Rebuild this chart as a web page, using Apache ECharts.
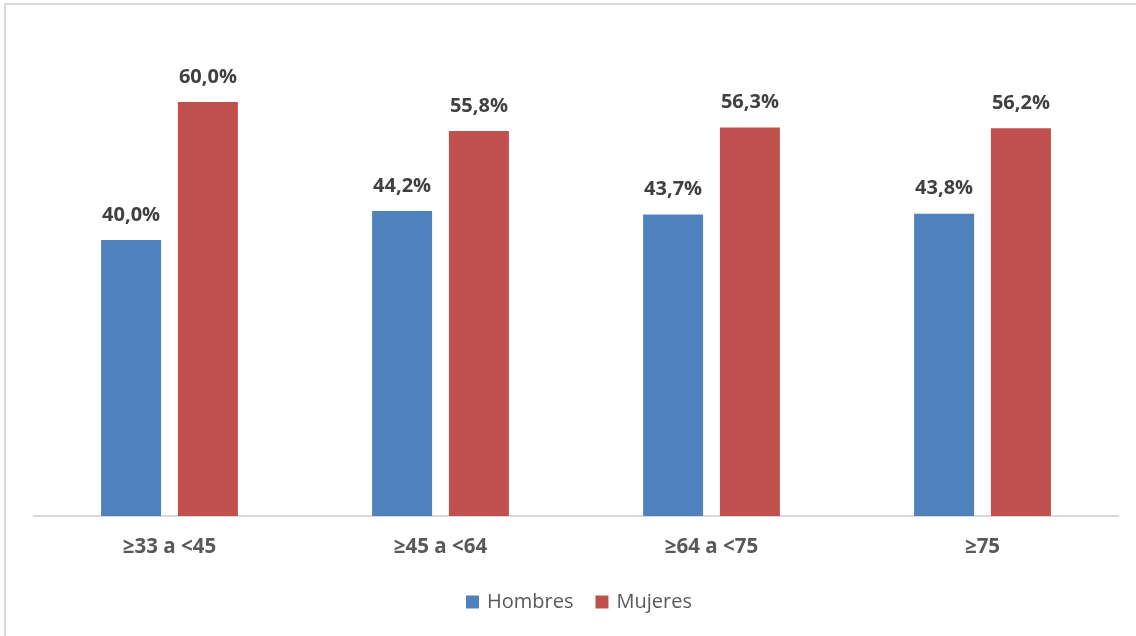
<!DOCTYPE html>
<html>
<head>
<meta charset="utf-8">
<script src="https://cdn.jsdelivr.net/npm/echarts@6/dist/echarts.min.js"></script>
<style>
  html, body { margin: 0; padding: 0; background: #fff; }
  #chart { width: 1136px; height: 636px; }
</style>
</head>
<body>
<div id="chart"></div>
<script>
// Age groups and share of each sex (%)
const categories = ['≥33 a <45', '≥45 a <64', '≥64 a <75', '≥75'];
const hombres = [40.0, 44.2, 43.7, 43.8];
const mujeres = [60.0, 55.8, 56.3, 56.2];

const fmt = v => v.toFixed(1).replace('.', ',') + '%';
const FONT = '"Open Sans", "Liberation Sans", sans-serif';

const valueLabel = {
  show: true, position: 'top', distance: 15,
  formatter: p => fmt(p.value),
  fontFamily: FONT, fontSize: 20, fontWeight: 'bold', color: '#404040'
};

const chart = echarts.init(document.getElementById('chart'));
chart.setOption({
  animation: false,
  backgroundColor: '#fff',
  graphic: [{
    type: 'rect',
    shape: { x: 5, y: 4, width: 1150, height: 650 },
    style: { fill: 'none', stroke: '#d9d9d9', lineWidth: 2 },
    silent: true
  }],
  grid: { left: 34, right: 18, top: 33, bottom: 120 },
  legend: {
    bottom: 19,
    left: 461,
    itemWidth: 13,
    itemHeight: 13,
    itemGap: 22,
    icon: 'rect',
    textStyle: { fontFamily: FONT, fontSize: 20, color: '#595959', padding: [0, 0, 0, 3] },
    data: ['Hombres', 'Mujeres']
  },
  xAxis: {
    type: 'category',
    data: categories,
    axisLine: { lineStyle: { color: '#d9d9d9', width: 2 } },
    axisTick: { show: false },
    axisLabel: {
      margin: 21,
      fontFamily: FONT, fontSize: 20.5, fontWeight: 'bold', color: '#595959'
    }
  },
  yAxis: {
    type: 'value',
    min: 0, max: 70,
    show: false,
    splitLine: { show: false }
  },
  series: [
    {
      name: 'Hombres', type: 'bar', data: hombres,
      barWidth: 60, barGap: '28%',
      itemStyle: { color: '#4F81BD' },
      label: valueLabel
    },
    {
      name: 'Mujeres', type: 'bar', data: mujeres,
      barWidth: 60, barGap: '28%',
      itemStyle: { color: '#C0504D' },
      label: valueLabel
    }
  ]
});
</script>
</body>
</html>
